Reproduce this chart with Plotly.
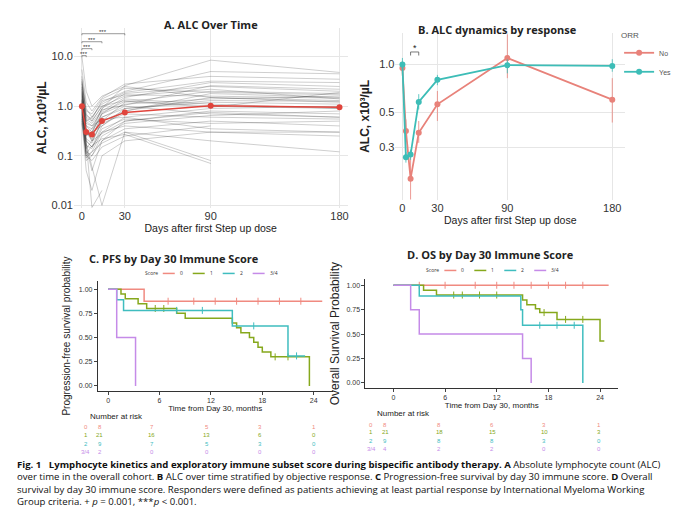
import plotly.graph_objects as go
import numpy as np

W, H = 680, 511
def px(x): return x / W
def py(y): return 1 - y / H

# ---------- Panel A data ----------
A_days = [0, 3, 7, 14, 30, 90, 180]
A_mean = [1.0, 0.3, 0.27, 0.5, 0.75, 1.02, 0.95]
A_patients = [
    [2.5,0.3,0.2,0.5,1.2,2.0,1.8],[1.5,0.2,0.15,0.4,0.8,1.5,1.3],[0.8,0.1,0.12,0.3,0.6,0.9,1.0],
    [3.0,0.5,0.4,0.8,1.5,3.0,2.5],[1.0,0.3,0.25,0.6,0.9,1.2,1.1],[0.6,0.08,0.1,0.2,0.35,0.5,0.4],
    [1.2,0.4,0.3,0.7,1.1,1.4,1.6],[2.0,0.25,0.3,0.9,1.8,2.5,2.0],[0.9,0.15,0.05,0.2,0.5,0.8,0.7],
    [1.8,0.6,0.5,1.0,1.3,1.0,0.9],[0.7,0.2,0.15,0.3,0.4,0.3,0.25],[1.4,0.35,0.2,0.45,0.7,0.6,0.55],
    [5.5,1.2,0.8,1.5,2.8,4.0,3.5],[1.1,0.1,0.08,0.15,0.25,0.4,None],[0.5,0.05,0.02,0.1,0.2,0.3,0.3],
    [2.2,0.5,0.6,1.2,2.0,5.0,4.5],[1.3,0.28,0.35,0.6,1.0,0.7,0.6],[0.95,0.22,0.18,0.5,0.8,1.8,1.5],
    [1.6,0.45,0.4,0.55,0.6,0.35,0.3],[3.5,0.7,0.5,1.0,1.6,2.2,1.4],[0.85,0.12,0.1,0.25,0.45,0.65,0.8],
    [1.05,0.3,0.22,0.7,1.4,1.1,0.9],[0.75,0.18,0.06,0.01,0.3,0.2,0.12],[2.8,0.8,0.7,1.4,2.3,1.9,1.7],
    [1.25,0.16,0.14,0.35,0.55,0.45,0.5],[0.65,0.09,0.12,0.18,0.3,0.08,None],[1.9,0.55,0.45,0.85,1.05,2.6,2.2],
    [1.15,0.26,0.3,0.4,0.9,1.3,1.25],[0.55,0.14,0.2,0.28,0.5,0.75,0.6],[4.0,0.9,0.6,1.1,1.9,3.2,3.0],
    [10.0,2.0,1.0,1.6,2.5,1.5,1.2],[1.35,0.2,0.009,0.02,None,None,None],[2.4,0.4,0.35,0.9,2.6,8.5,4.8],
    [0.45,0.11,0.16,0.22,0.27,0.07,None],[1.7,0.33,0.28,0.75,1.25,0.95,1.9],[3.2,0.65,0.55,1.3,1.7,1.6,1.45],
]

# ---------- Panel B data ----------
B_days = [0, 3, 7, 14, 30, 90, 180]
B_no = [0.95, 0.38, 0.19, 0.37, 0.56, 1.1, 0.6]
B_no_hi = [1.05, 0.45, 0.27, 0.44, 0.68, 1.55, 0.82]
B_no_lo = [0.85, 0.33, 0.14, 0.32, 0.44, 0.82, 0.43]
B_yes = [1.0, 0.26, 0.27, 0.58, 0.8, 0.99, 0.98]
B_yes_hi = [1.1, 0.28, 0.29, 0.65, 0.86, 1.08, 1.08]
B_yes_lo = [0.92, 0.24, 0.25, 0.52, 0.74, 0.88, 0.9]

# ---------- KM data ----------
scores = ["0", "1", "2", "3/4"]
km_colors = ["#F08A80", "#86A81C", "#3FBDBF", "#C58BE8"]
C_t = [[0, 4.2, 25], [0, 1.5, 2, 3.5, 4.5, 8, 9, 14.5, 15, 15.5, 16.5, 17, 17.5, 18, 19, 23.5],
       [0, 1, 1.8, 14.5, 21, 23], [0, 1, 3.2]]
C_s = [[1, 0.875, 0.875], [1, 0.95, 0.9, 0.85, 0.8, 0.75, 0.7, 0.65, 0.6, 0.55, 0.5, 0.45, 0.4, 0.35, 0.3, 0.0],
       [1, 0.89, 0.78, 0.62, 0.31, 0.31], [1, 0.5, 0.0]]
C_cens = [[7, 10, 12.5, 15, 17.5, 20, 22.5], [5.5, 6.5, 19.5, 21], [8, 11, 17, 22], []]
D_t = [[0, 25], [0, 3.5, 5, 15, 15.5, 16.5, 17, 19, 24, 24.5],
       [0, 3, 14.8, 15, 22], [0, 2, 3, 15, 16]]
D_s = [[1, 1], [1, 0.95, 0.9, 0.85, 0.8, 0.76, 0.72, 0.65, 0.43, 0.43],
       [1, 0.89, 0.75, 0.59, 0.0], [1, 0.75, 0.5, 0.25, 0.0]]
D_cens = [[3, 6, 9.5, 12, 14, 16, 18, 20, 22], [7, 8, 10, 12, 17.5, 20, 22], [17, 19, 21], []]
risk_times = [0, 6, 12, 18, 24]
C_risk = [[8, 7, 5, 3, 1], [21, 16, 13, 6, 0], [9, 7, 5, 3, 0], [2, 0, 0, 0, 0]]
D_risk = [[8, 8, 6, 3, 1], [21, 18, 15, 10, 3], [9, 8, 8, 3, 0], [4, 2, 2, 0, 0]]

fig = go.Figure()
for p in A_patients:
    fig.add_trace(go.Scatter(x=A_days, y=p, mode="lines", line=dict(color="rgba(0,0,0,0.28)", width=0.7),
                             xaxis="x", yaxis="y", showlegend=False, hoverinfo="skip"))
fig.add_trace(go.Scatter(x=A_days, y=A_mean, mode="lines+markers", line=dict(color="#E0443C", width=1.5),
                         marker=dict(size=6, color="#E0443C"), xaxis="x", yaxis="y", showlegend=False))

for name, vals, hi, lo, col in [("No", B_no, B_no_hi, B_no_lo, "#E8827A"), ("Yes", B_yes, B_yes_hi, B_yes_lo, "#3DBDB7")]:
    fig.add_trace(go.Scatter(x=B_days, y=vals, mode="lines+markers", name=name,
                             line=dict(color=col, width=1.8), marker=dict(size=6, color=col),
                             error_y=dict(type="data", array=[h - v for h, v in zip(hi, vals)],
                                          arrayminus=[v - l for v, l in zip(vals, lo)], color=col,
                                          thickness=0.8, width=0),
                             xaxis="x2", yaxis="y2"))

def step_at(t, ts, ss):
    v = ss[0]
    for a, b in zip(ts, ss):
        if a <= t: v = b
    return v

for (ts_all, ss_all, cens_all, xa, ya) in [(C_t, C_s, C_cens, "x3", "y3"), (D_t, D_s, D_cens, "x4", "y4")]:
    for i, sc in enumerate(scores):
        fig.add_trace(go.Scatter(x=ts_all[i], y=ss_all[i], mode="lines", line=dict(color=km_colors[i], width=1.5, shape="hv"),
                                 xaxis=xa, yaxis=ya, showlegend=False))
        if cens_all[i]:
            fig.add_trace(go.Scatter(x=cens_all[i], y=[step_at(t, ts_all[i], ss_all[i]) for t in cens_all[i]],
                                     mode="markers", marker=dict(symbol="line-ns-open", size=5, color=km_colors[i], line=dict(width=1)),
                                     xaxis=xa, yaxis=ya, showlegend=False))

tickf = dict(family="Liberation Sans", size=11, color="#333")
grid = "#E6E6E6"
km_x = dict(tickvals=[0, 6, 12, 18, 24], showgrid=False, showline=True, linecolor="#333", ticks="outside",
            ticklen=3, tickfont=dict(size=7, color="#333"), zeroline=False)
km_y = dict(tickvals=[0, 0.25, 0.5, 0.75, 1], ticktext=["0.00", "0.25", "0.50", "0.75", "1.00"], showgrid=False,
            showline=True, linecolor="#333", ticks="outside", ticklen=3, tickfont=dict(size=7, color="#333"), zeroline=False)
fig.update_layout(
    width=W, height=H, margin=dict(l=0, r=0, t=0, b=0), paper_bgcolor="white", plot_bgcolor="white",
    font=dict(family="Liberation Sans", color="#222"),
    xaxis=dict(domain=[px(66), px(340)], anchor="y", range=[-5.6, 185.6], tickvals=[0, 30, 90, 180], gridcolor=grid,
               tickfont=tickf, zeroline=False, title=dict(text="Days after first Step up dose", font=dict(size=10.5), standoff=3)),
    yaxis=dict(domain=[py(201), py(20)], anchor="x", type="log", range=[-2.05, 1.58], tickvals=[0.01, 0.1, 1, 10],
               ticktext=["0.01", "0.1", "1.0", "10.0"], gridcolor=grid, tickfont=tickf, zeroline=False,
               title=dict(text="<b>ALC, x10³/µL</b>", font=dict(size=12), standoff=2)),
    xaxis2=dict(domain=[px(388), px(618)], anchor="y2", range=[-6, 191], tickvals=[0, 30, 90, 180], gridcolor=grid,
                tickfont=tickf, zeroline=False, title=dict(text="Days after first Step up dose", font=dict(size=10.5), standoff=3)),
    yaxis2=dict(domain=[py(193), py(25)], anchor="x2", type="log", range=[-0.855, 0.2], tickvals=[0.3, 0.5, 1.0],
                ticktext=["0.3", "0.5", "1.0"], gridcolor=grid, tickfont=tickf, zeroline=False,
                title=dict(text="<b>ALC, x10³/µL</b>", font=dict(size=12), standoff=6)),
    xaxis3=dict(domain=[px(90), px(325)], anchor="y3", range=[-1.2, 26.2],
                title=dict(text="Time from Day 30, months", font=dict(size=8), standoff=2), **km_x),
    yaxis3=dict(domain=[py(385), py(275)], anchor="x3", range=[-0.05, 1.08],
                title=dict(text="Progression-free survival probability", font=dict(size=10), standoff=6), **km_y),
    xaxis4=dict(domain=[px(358), px(611)], anchor="y4", range=[-3.25, 26.1],
                title=dict(text="Time from Day 30, months", font=dict(size=8), standoff=2), **km_x),
    yaxis4=dict(domain=[py(382), py(273)], anchor="x4", range=[-0.05, 1.06],
                title=dict(text="Overall Survival Probability", font=dict(size=12), standoff=4), **km_y),
    legend=dict(x=px(612), y=py(20), xanchor="left", yanchor="top", title=dict(text="ORR", font=dict(size=8, color="#555")),
                font=dict(size=7, color="#555"), bgcolor="rgba(0,0,0,0)", tracegroupgap=0, itemwidth=30),
)

ann = []
def A(x, y, text, size=10, color="#222", xanchor="center", **kw):
    ann.append(dict(x=px(x), y=py(y), xref="paper", yref="paper", text=text, showarrow=False,
                    font=dict(size=size, color=color, family=kw.pop("family", "Open Sans")), xanchor=xanchor, yanchor="middle", **kw))

A(203, 17, "<b>A. ALC Over Time</b>", 11)
A(490, 22, "<b>B. ALC dynamics by response</b>", 11)
A(166, 252, "<b>C. PFS by Day 30 Immune Score</b>", 11)
A(483, 248, "<b>D. OS by Day 30 Immune Score</b>", 11)

def km_legend(xc, y):
    xs = xc - 80
    A(xs, y, "Score", 5, "#333", "left"); xs += 20
    for sc, col in zip(scores, km_colors):
        fig.add_shape(type="line", xref="paper", yref="paper", x0=px(xs), x1=px(xs + 12), y0=py(y), y1=py(y), line=dict(color=col, width=1.5))
        A(xs + 15, y, sc, 5, "#333", "left"); xs += 30
km_legend(215, 267)
km_legend(497, 264)

def risk(xlab, xcols, ytitle, ys, data, xtitle):
    A(xtitle, ytitle, "Number at risk", 8, "#222", "left", family="Liberation Sans")
    for i, sc in enumerate(scores):
        A(xlab, ys[i], sc, 6, km_colors[i], "center", family="Liberation Sans")
        for xc, v in zip(xcols, data[i]):
            A(xc, ys[i], str(v), 6, km_colors[i], "center", family="Liberation Sans")
risk(78, [92, 144, 199, 252, 306], 411, [421, 430, 439, 447], C_risk, 80)
risk(364, [378, 432, 485, 537, 592], 408, [419, 427, 436, 444], D_risk, 368)

for x1, yv in [(30, 29), (14, 20), (7, 14.5), (3, 10.5)]:
    fig.add_shape(type="path", xref="x", yref="y",
                  path=f"M 0 {yv*0.93} L 0 {yv} L {x1} {yv} L {x1} {yv*0.93}", line=dict(color="#555", width=0.6))
    fig.add_annotation(x=x1 / 2, y=np.log10(yv * 1.08), xref="x", yref="y", text="***", showarrow=False,
                       font=dict(size=6, color="#333"))
fig.add_shape(type="path", xref="x2", yref="y2", path="M 7 1.14 L 7 1.2 L 14 1.2 L 14 1.14", line=dict(color="#555", width=0.8))
fig.add_annotation(x=10.5, y=np.log10(1.27), xref="x2", yref="y2", text="*", showarrow=False, font=dict(size=9))

cap = [
    "<b>Fig. 1   Lymphocyte kinetics and exploratory immune subset score during bispecific antibody therapy. A</b> Absolute lymphocyte count (ALC)",
    "over time in the overall cohort. <b>B</b> ALC over time stratified by objective response. <b>C</b> Progression-free survival by day 30 immune score. <b>D</b> Overall",
    "survival by day 30 immune score. Responders were defined as patients achieving at least partial response by International Myeloma Working",
    "Group criteria. + <i>p</i> = 0.001, ***<i>p</i> &lt; 0.001.",
]
for i, line in enumerate(cap):
    A(7, 459 + i * 12.5, line, 9.6, "#111", "left", family="Open Sans")

fig.update_layout(annotations=list(fig.layout.annotations) + ann)
fig.write_html("out.html")
